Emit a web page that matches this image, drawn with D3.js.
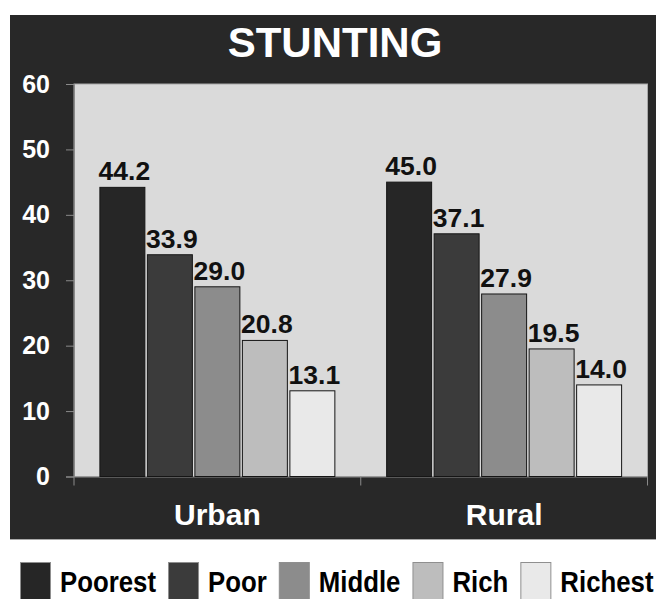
<!DOCTYPE html>
<html>
<head>
<meta charset="utf-8">
<script src="https://cdn.jsdelivr.net/npm/d3@7/dist/d3.min.js"></script>
<style>
  body { margin: 0; background: #fff; }
  svg { display: block; font-family: "Liberation Sans", Arial, sans-serif; font-weight: bold; }
</style>
</head>
<body>
<svg id="chart" width="656" height="599"></svg>
<script>
// data
var title = "STUNTING";
var areas = ["Urban", "Rural"];
var quintiles = ["Poorest", "Poor", "Middle", "Rich", "Richest"];
var urbanValues = [44.2, 33.9, 29.0, 20.8, 13.1];
var ruralValues = [45.0, 37.1, 27.9, 19.5, 14.0];
var yTicks = [0, 10, 20, 30, 40, 50, 60];
var shades = ["#262626", "#3b3b3b", "#8c8c8c", "#bdbdbd", "#e9e9e9"];

var svg = d3.select("#chart");

// dark panel behind title and plot
svg.append("rect")
    .attr("x", 10).attr("y", 15)
    .attr("width", 646).attr("height", 524)
    .attr("fill", "#282828");
svg.append("line")
    .attr("x1", 10).attr("x2", 656)
    .attr("y1", 539.5).attr("y2", 539.5)
    .attr("stroke", "#aaa");

svg.append("text")
    .attr("x", 335).attr("y", 57)
    .attr("text-anchor", "middle")
    .attr("font-size", 42)
    .attr("fill", "#fff")
    .text(title);

var plot = { left: 74, right: 647.5, top: 84, bottom: 476.5 };

var y = d3.scaleLinear().domain([0, 60]).range([plot.bottom, plot.top]);
var x0 = d3.scaleBand().domain(areas).range([plot.left, plot.right]);
var x1 = d3.scaleBand().domain(quintiles).range([0, x0.bandwidth()])
    .paddingInner(0.053).paddingOuter(0.545);
var color = d3.scaleOrdinal().domain(quintiles).range(shades);

svg.append("rect")
    .attr("x", plot.left).attr("y", plot.top)
    .attr("width", plot.right - plot.left)
    .attr("height", plot.bottom - plot.top)
    .attr("fill", "#dadada")
    .attr("stroke", "#a8a8a8");

// y axis
var yAxis = svg.append("g")
    .attr("transform", "translate(" + plot.left + ",0)")
    .call(d3.axisLeft(y).tickValues(yTicks).tickSize(8).tickPadding(16));
yAxis.select(".domain").attr("stroke", "#8a8a8a");
yAxis.selectAll(".tick line").attr("stroke", "#8a8a8a");
yAxis.selectAll(".tick text")
    .attr("fill", "#fff")
    .attr("font-size", 25)
    .attr("font-family", "Liberation Sans, Arial, sans-serif")
    .attr("font-weight", "bold");

// x axis
var xAxis = svg.append("g")
    .attr("transform", "translate(0," + plot.bottom + ")")
    .call(d3.axisBottom(x0).tickSize(0).tickPadding(27));
xAxis.select(".domain").attr("stroke", "#8a8a8a");
xAxis.selectAll(".tick text")
    .attr("fill", "#fff")
    .attr("font-size", 30)
    .attr("font-family", "Liberation Sans, Arial, sans-serif")
    .attr("font-weight", "bold");
// category separators
xAxis.selectAll("line.sep")
    .data([plot.left, x0("Rural"), plot.right])
    .enter().append("line")
    .attr("class", "sep")
    .attr("x1", function (d) { return d; })
    .attr("x2", function (d) { return d; })
    .attr("y1", 0).attr("y2", 9)
    .attr("stroke", "#8a8a8a");

var rows = areas.map(function (a, i) {
    var vals = i === 0 ? urbanValues : ruralValues;
    return { area: a, values: quintiles.map(function (q, j) { return { q: q, v: vals[j] }; }) };
});

var groups = svg.selectAll("g.area")
    .data(rows)
    .enter().append("g")
    .attr("class", "area")
    .attr("transform", function (d) { return "translate(" + x0(d.area) + ",0)"; });

groups.selectAll("rect")
    .data(function (d) { return d.values; })
    .enter().append("rect")
    .attr("x", function (d) { return x1(d.q); })
    .attr("y", function (d) { return y(d.v); })
    .attr("width", x1.bandwidth())
    .attr("height", function (d) { return y(0) - y(d.v); })
    .attr("fill", function (d) { return color(d.q); })
    .attr("stroke", "#151515")
    .attr("stroke-width", 1);

groups.selectAll("text.val")
    .data(function (d) { return d.values; })
    .enter().append("text")
    .attr("class", "val")
    .attr("x", function (d) { return x1(d.q) + x1.bandwidth() / 2 + 2; })
    .attr("y", function (d) { return y(d.v) - 7; })
    .attr("text-anchor", "middle")
    .attr("font-size", 26.5)
    .attr("fill", "#111")
    .text(function (d) { return d.v.toFixed(1); });

// legend below the panel
var legend = svg.append("g").attr("class", "legend");
var lx = 20;
quintiles.forEach(function (q) {
    legend.append("rect")
        .attr("x", lx + 0.5).attr("y", 562.5)
        .attr("width", 30).attr("height", 40)
        .attr("fill", color(q))
        .attr("stroke", "#8f8f8f");
    var t = legend.append("text")
        .attr("transform", "translate(" + (lx + 40) + ",592) scale(0.86,1)")
        .attr("font-size", 30)
        .attr("fill", "#000")
        .text(q);
    lx = lx + 40 + t.node().getComputedTextLength() * 0.86 + 12;
});
</script>
</body>
</html>
